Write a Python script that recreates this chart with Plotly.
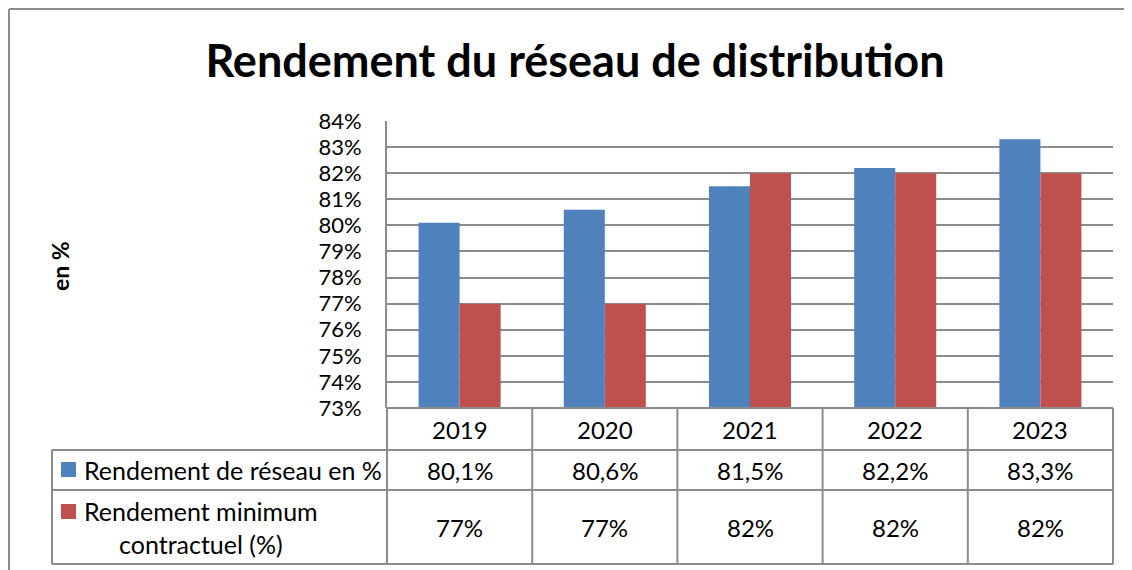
import plotly.graph_objects as go

annees = ["2019", "2020", "2021", "2022", "2023"]
rendement_reseau = [80.1, 80.6, 81.5, 82.2, 83.3]
rendement_min = [77, 77, 82, 82, 82]
serie_noms = ["Rendement de réseau en %", "Rendement minimum<br>contractuel (%)"]
y_ticks = list(range(73, 85))

# la page ajoute une marge de 8 px autour de la figure
OFF = 8
W, H = 1132 - OFF, 570 - OFF
BLEU = "#4F81BD"
ROUGE = "#C0504D"
GRIS = "#8C8C8C"
FONT = "Lato"


def px(x):
    return (x - OFF) / W


def py(y):
    return 1 - (y - OFF) / H


# zone du graphique (pixels de l'image)
X0, X1 = 387, 1113
Y_TOP, Y_BOT = 121, 408
ROW1, ROW2, ROW3 = 450, 490, 564
TAB_LEFT = 52

fig = go.Figure()
fig.add_trace(go.Bar(x=annees, y=rendement_reseau, name=serie_noms[0],
                     marker=dict(color=BLEU, line=dict(width=0))))
fig.add_trace(go.Bar(x=annees, y=rendement_min, name=serie_noms[1],
                     marker=dict(color=ROUGE, line=dict(width=0))))

shapes = []


def line(x0, y0, x1, y1, w=2):
    shapes.append(dict(type="line", xref="paper", yref="paper",
                       x0=px(x0), y0=py(y0), x1=px(x1), y1=py(y1),
                       line=dict(color=GRIS, width=w)))


# cadre extérieur
line(9, 9, 1132, 9, 2)
line(9, 9, 9, 570, 2)

# tableau de données
line(X0, Y_BOT, X1, Y_BOT)
line(TAB_LEFT, ROW1, X1, ROW1)
line(TAB_LEFT, ROW2, X1, ROW2)
line(TAB_LEFT, ROW3, X1, ROW3)
line(TAB_LEFT, ROW1, TAB_LEFT, ROW3)
n = len(annees)
for i in range(n + 1):
    xx = X0 + i * (X1 - X0) / n
    line(xx, Y_BOT, xx, ROW3)

# carrés de légende
shapes.append(dict(type="rect", xref="paper", yref="paper",
                   x0=px(61), x1=px(76), y0=py(462), y1=py(477),
                   fillcolor=BLEU, line=dict(width=0)))
shapes.append(dict(type="rect", xref="paper", yref="paper",
                   x0=px(61), x1=px(76), y0=py(504), y1=py(519),
                   fillcolor=ROUGE, line=dict(width=0)))

annotations = []
tfont = dict(family=FONT, size=24, color="#000000")
for i, (a, v1, v2) in enumerate(zip(annees, rendement_reseau, rendement_min)):
    for yy, txt in [((Y_BOT + ROW1) / 2, a),
                    ((ROW1 + ROW2) / 2, f"{v1:.1f}%".replace(".", ",")),
                    ((ROW2 + ROW3) / 2, f"{v2:.0f}%")]:
        annotations.append(dict(x=i, xref="x", y=py(yy), yref="paper",
                                xanchor="center", yanchor="middle",
                                text=txt, showarrow=False, font=tfont))

annotations.append(dict(x=px(82), xref="paper", y=py((ROW1 + ROW2) / 2), yref="paper",
                        xanchor="left", yanchor="middle",
                        text=serie_noms[0], showarrow=False,
                        font=dict(family=FONT, size=25, color="#000000")))
annotations.append(dict(x=px(82), xref="paper", y=py((ROW2 + ROW3) / 2), yref="paper",
                        xanchor="left", yanchor="middle", align="center",
                        text=serie_noms[1], showarrow=False,
                        font=dict(family=FONT, size=25, color="#000000")))

# titre de l'axe
annotations.append(dict(x=px(60), xref="paper", y=py(266), yref="paper",
                        xanchor="center", yanchor="middle",
                        text="<b>en %</b>", textangle=-90, showarrow=False,
                        font=dict(family=FONT, size=23, color="#000000")))

fig.update_layout(
    width=W, height=H, autosize=False,
    margin=dict(l=0, r=0, t=0, b=0, pad=0, autoexpand=False),
    paper_bgcolor="white", plot_bgcolor="white",
    barmode="group", bargap=0.435, bargroupgap=0,
    showlegend=False,
    title=dict(text="<b>Rendement du réseau de distribution</b>",
               x=px(575), xanchor="center", y=py(61), yanchor="middle",
               automargin=False,
               font=dict(family=FONT, size=45, color="#000000")),
    xaxis=dict(type="category", range=[-0.5, n - 0.5], domain=[px(X0), px(X1)],
               showticklabels=False, showgrid=False, showline=False,
               zeroline=False, automargin=False),
    yaxis=dict(domain=[py(Y_BOT), py(Y_TOP)], range=[73, 84],
               tickvals=y_ticks, ticktext=[f"{t}%" for t in y_ticks],
               showgrid=True, gridcolor=GRIS, gridwidth=1.5,
               showline=True, linecolor=GRIS, linewidth=2,
               zeroline=False, ticks="", ticklabelstandoff=19, automargin=False,
               tickfont=dict(family=FONT, size=22, color="#000000")),
    shapes=shapes,
    annotations=annotations,
)

fig.write_html("out.html")
